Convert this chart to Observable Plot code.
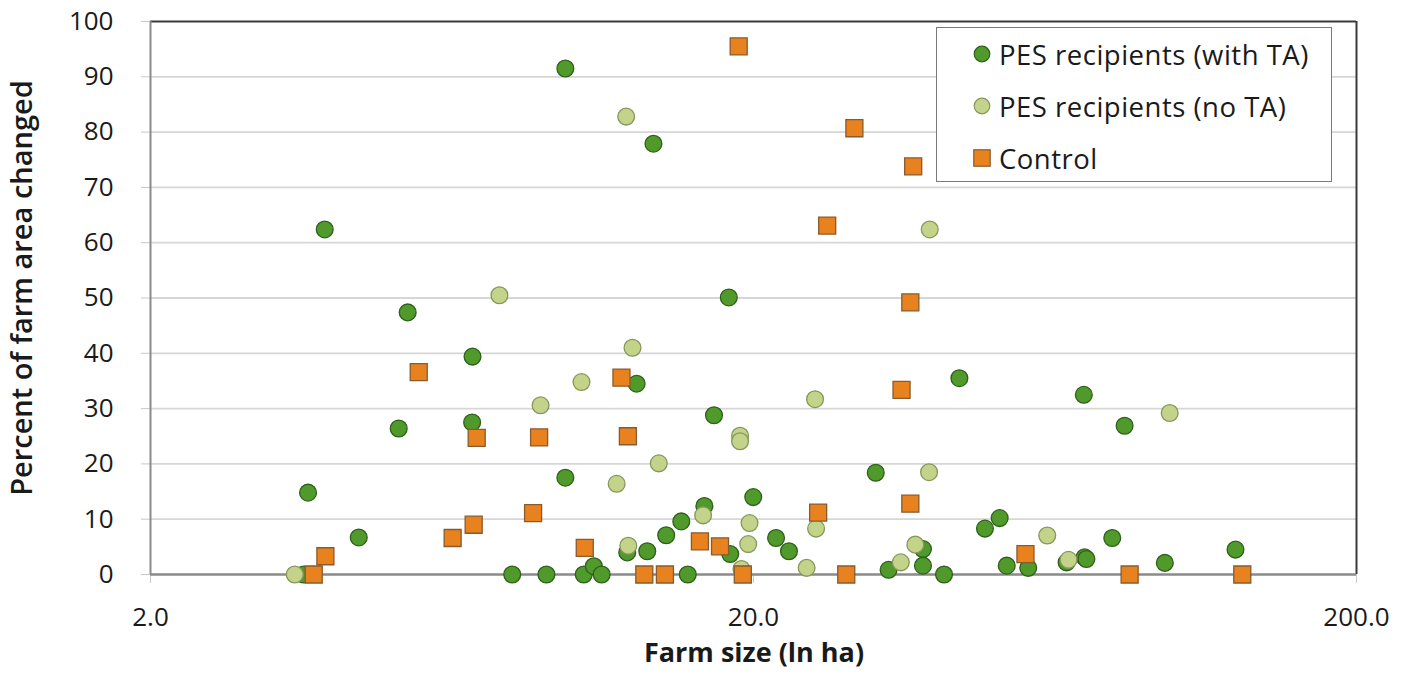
<!DOCTYPE html>
<html>
<head>
<meta charset="utf-8">
<script src="https://cdn.jsdelivr.net/npm/d3@7"></script>
<script src="https://cdn.jsdelivr.net/npm/@observablehq/plot@0.6"></script>
<style>
  body { margin: 0; background: #fff; }
  #wrap { position: relative; width: 1409px; height: 680px; font-family: "Open Sans", sans-serif; }
  .legend { position: absolute; left: 936px; top: 27px; width: 396px; height: 155px; box-sizing: border-box;
            border: 1.5px solid #7a7a7a; background: #fff; }
  .row { position: absolute; left: 36px; height: 34px; display: flex; align-items: center; font-size: 27.5px; letter-spacing: 0.5px; color: #1a1a1a; white-space: nowrap; }
  .row svg { margin-right: 8px; }
</style>
</head>
<body>
<div id="wrap"></div>
<script>
// ---- Data (farm size in ha, percent of farm area changed) ----
const withTA_size = [3.59,3.65,3.89,4.43,5.16,5.34,6.83,6.84,7.96,9.07,9.75,9.75,10.46,10.87,11.2,12.35,12.8,13.33,13.65,14.33,15.18,15.56,16.58,17.2,18.2,18.3,19.98,21.8,22.9,31.9,33.5,38.2,38.2,41.4,43.9,48.4,51.2,52.6,57.1,66.1,70.6,70.8,71.3,78.7,82.5,96.2,126];
const withTA_pct  = [0,14.8,62.4,6.7,26.4,47.4,27.5,39.4,0,0,91.5,17.5,0,1.5,0,4.0,34.5,4.2,77.9,7.1,9.6,0,12.4,28.8,50.1,3.7,14.0,6.6,4.2,18.4,0.85,4.6,1.6,0,35.5,8.3,10.2,1.6,1.2,2.2,32.5,3.1,2.8,6.6,26.9,2.1,4.5];

const noTA_size = [3.47,7.58,8.87,10.37,11.86,12.3,12.4,12.6,13.93,16.5,19.0,19.0,19.1,19.7,19.6,24.5,25.3,25.4,35.1,37.1,39.1,39.2,61.4,66.6,98.0];
const noTA_pct  = [0,50.5,30.6,34.8,16.4,82.8,5.2,41.0,20.1,10.7,25.1,24.1,1.0,9.3,5.5,1.2,31.7,8.3,2.2,5.4,18.5,62.4,7.05,2.65,29.2];

const control_size = [3.73,3.90,5.57,6.34,6.87,6.95,8.62,8.82,10.5,12.08,12.38,13.18,14.26,16.3,17.6,18.9,19.2,25.6,26.5,28.5,29.4,35.2,36.4,36.4,36.8,56.5,84.1,129.3];
const control_pct  = [0,3.3,36.6,6.6,9.0,24.7,11.1,24.8,4.8,35.6,25.0,0,0,6.0,5.1,95.5,0,11.2,63.1,0,80.7,33.4,49.2,12.8,73.8,3.7,0,0];

const seriesNames = ["PES recipients (with TA)", "PES recipients (no TA)", "Control"];
const xTicks = [2, 20, 200];
const yTicks = [0,10,20,30,40,50,60,70,80,90,100];
const xTitle = "Farm size (ln ha)";
const yTitle = "Percent of farm area changed";

const toRows = (xs, ys) => xs.map((x, i) => ({x, y: ys[i]}));
const withTA = toRows(withTA_size, withTA_pct);
const noTA = toRows(noTA_size, noTA_pct);
const control = toRows(control_size, control_pct);

const C = {
  dark: {fill: "#4f9a2b", stroke: "#2f5f1a"},
  light: {fill: "#c3d38a", stroke: "#87975c"},
  orange: {fill: "#e8821f", stroke: "#8a5a2c"}
};

const chart = Plot.plot({
  width: 1409,
  height: 680,
  marginLeft: 150,
  marginRight: 53,
  marginTop: 21,
  marginBottom: 106,
  style: {fontFamily: "'Open Sans', sans-serif", background: "#fff", color: "#1a1a1a"},
  x: {type: "log", domain: [2, 200]},
  y: {domain: [0, 100]},
  marks: [
    Plot.gridY(yTicks.filter(d => d > 0 && d < 100), {stroke: "#d6d6d6", strokeOpacity: 1, strokeWidth: 1.8}),
    Plot.axisY({ticks: yTicks, tickSize: 9, tickPadding: 28, fontSize: 26, label: null, stroke: "#c8c8c8"}),
    Plot.axisX({ticks: xTicks, tickFormat: d => d.toFixed(1), tickSize: 9, tickPadding: 24, fontSize: 26, label: null, stroke: "#c8c8c8"}),
    Plot.ruleY([100], {stroke: "#3a3a3a", strokeWidth: 2}),
    Plot.ruleX([2], {stroke: "#8a8a8a", strokeWidth: 2}),
    Plot.ruleX([200], {stroke: "#3a3a3a", strokeWidth: 2}),
    Plot.ruleY([0], {stroke: "#8a8a8a", strokeWidth: 2.5}),
    Plot.dot(withTA, {x: "x", y: "y", r: 8.4, fill: C.dark.fill, stroke: C.dark.stroke, strokeWidth: 1.3}),
    Plot.dot(noTA, {x: "x", y: "y", r: 8.4, fill: C.light.fill, stroke: C.light.stroke, strokeWidth: 1.3}),
    Plot.dot(control, {x: "x", y: "y", r: 9.6, symbol: "square", fill: C.orange.fill, stroke: C.orange.stroke, strokeWidth: 1.3})
  ]
});

const svg = d3.select(chart);
svg.append("text")
  .attr("x", 754).attr("y", 662)
  .attr("text-anchor", "middle")
  .attr("font-size", 27).attr("font-weight", "bold")
  .attr("fill", "#1a1a1a")
  .text(xTitle);
svg.append("text")
  .attr("transform", "translate(32,288) rotate(-90)")
  .attr("text-anchor", "middle")
  .attr("font-size", 29).attr("font-weight", 600)
  .attr("fill", "#1a1a1a")
  .text(yTitle);

const wrap = document.getElementById("wrap");
wrap.appendChild(chart);

// Legend
const legend = document.createElement("div");
legend.className = "legend";
const sym = [
  `<svg width="18" height="18"><circle cx="9" cy="9" r="7.8" fill="${C.dark.fill}" stroke="${C.dark.stroke}" stroke-width="1.2"/></svg>`,
  `<svg width="18" height="18"><circle cx="9" cy="9" r="7.8" fill="${C.light.fill}" stroke="${C.light.stroke}" stroke-width="1.2"/></svg>`,
  `<svg width="18" height="18"><rect x="0.8" y="0.8" width="16.4" height="16.4" fill="${C.orange.fill}" stroke="${C.orange.stroke}" stroke-width="1.2"/></svg>`
];
const tops = [9, 61, 113];
seriesNames.forEach((name, i) => {
  const row = document.createElement("div");
  row.className = "row";
  row.style.top = tops[i] + "px";
  row.innerHTML = sym[i] + `<span>${name}</span>`;
  legend.appendChild(row);
});
wrap.appendChild(legend);
</script>
</body>
</html>
